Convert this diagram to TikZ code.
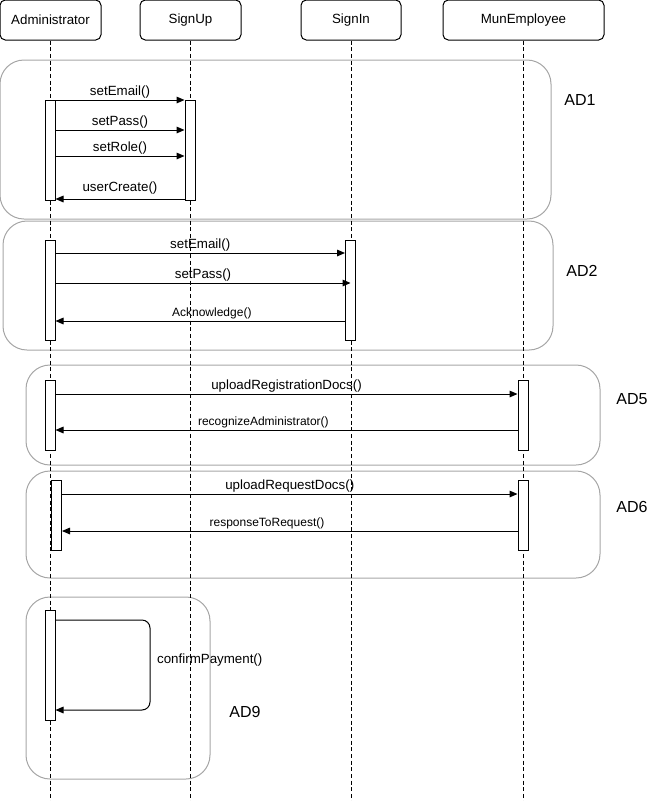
\documentclass[tikz,border=0pt]{standalone}
\usepackage{fontspec}
\setmainfont{Liberation Sans}
\usetikzlibrary{positioning, arrows.meta}

\begin{document}
\begin{tikzpicture}[
        x=0.75pt, y=-0.75pt,
        every node/.style={font=\fontsize{10}{12}\selectfont},
        head/.style={rectangle, draw, rounded corners=4pt, minimum height=30pt, line width=0.75pt},
        bar/.style={rectangle, draw, fill=white, minimum width=7.5pt, inner sep=0pt, line width=0.75pt},
        frame/.style={draw=gray!70, line width=0.75pt, rounded corners=18pt},
        lifeline/.style={dashed, line width=0.6pt, dash pattern=on 3pt off 2pt},
        msg/.style={-{Triangle[length=6pt, width=5pt]}, line width=0.75pt},
        lbl/.style={above, inner sep=1pt, font=\fontsize{10}{12}\selectfont},
        small/.style={font=\fontsize{9}{11}\selectfont},
        tag/.style={font=\large}
    ]
        \useasboundingbox (0,0) rectangle (666,801);
        % Lifeline heads
        \node[head, minimum width=75.75pt] (adm) at (50.5,20) {Administrator};
        \node[head, minimum width=75.75pt] (sup) at (190.5,20) {SignUp};
        \node[head, minimum width=75pt] (sin) at (351,20) {SignIn};
        \node[head, minimum width=120.75pt] (mun) at (523.5,20) {MunEmployee};
        % Fragments
        \draw[frame] (0,60) rectangle (551,219);
        \draw[frame] (3,221) rectangle (553,350);
        \draw[frame] (26,365) rectangle (600,465);
        \draw[frame] (26,471) rectangle (600,578);
        \draw[frame] (26,597) rectangle (210,779);
        % Lifelines
        \draw[lifeline] (adm.south) -- (adm.south |- 0,801);
        \draw[lifeline] (sup.south) -- (sup.south |- 0,801);
        \draw[lifeline] (sin.south) -- (sin.south |- 0,801);
        \draw[lifeline] (mun.south) -- (mun.south |- 0,801);
        % Activations
        \node[bar, minimum height=75pt] (admA) at (50,150) {};
        \node[bar, minimum height=75pt] (supA) at (190,150) {};
        \node[bar, minimum height=75pt] (admB) at (50,290) {};
        \node[bar, minimum height=75pt] (sinB) at (350.5,290) {};
        \node[bar, minimum height=52.5pt] (admC) at (50,415) {};
        \node[bar, minimum height=52.5pt] (munC) at (523,415) {};
        \node[bar, minimum height=52.5pt] (admD) at (56.5,515) {};
        \node[bar, minimum height=52.5pt] (munD) at (523,515) {};
        \node[bar, minimum height=82.5pt] (admE) at (50,665) {};
        % AD1 messages
        \draw[msg] (admA.east |- 0,100) -- (supA.west |- 0,100) node[lbl, midway] {setEmail()};
        \draw[msg] (admA.east |- 0,130) -- (supA.west |- 0,130) node[lbl, midway] {setPass()};
        \draw[msg] (admA.east |- 0,156) -- (supA.west |- 0,156) node[lbl, midway] {setRole()};
        \draw[msg] (supA.west |- 0,199) -- (admA.east |- 0,199) node[lbl, midway, yshift=2pt] {userCreate()};
        % AD2 messages
        \draw[msg] (admB.east |- 0,253) -- (sinB.west |- 0,253) node[lbl, midway] {setEmail()};
        \draw[msg] (admB.east |- 0,283) -- (sinB |- 0,283) node[lbl, midway] {setPass()};
        \draw[msg] (sinB.west |- 0,321) -- (admB.east |- 0,321) node[lbl, small, pos=0.46] {Acknowledge()};
        % AD5 messages
        \draw[msg] (admC.east |- 0,394) -- (munC.west |- 0,394) node[lbl, midway] {uploadRegistrationDocs()};
        \draw[msg] (munC.west |- 0,430) -- (admC.east |- 0,430) node[lbl, small, pos=0.55] {recognizeAdministrator()};
        % AD6 messages
        \draw[msg] (admD.east |- 0,494) -- (munD.west |- 0,494) node[lbl, midway] {uploadRequestDocs()};
        \draw[msg] (munD.west |- 0,531) -- (admD.east |- 0,531) node[lbl, small, pos=0.55] {responseToRequest()};
        % AD9 self call
        \draw[msg, rounded corners=6pt] (admE.east |- 0,620) -- (150,620) -- (150,710)
            node[right, pos=0.45, inner sep=5pt] {confirmPayment()} -- (admE.east |- 0,710);
        % Fragment tags
        \node[tag] (ad1) at (580,100) {AD1};
        \node[tag] (ad2) at (582,271) {AD2};
        \node[tag] (ad5) at (632,399) {AD5};
        \node[tag] (ad6) at (632,507) {AD6};
        \node[tag] (ad9) at (245,712) {AD9};
    \end{tikzpicture}
\end{document}
